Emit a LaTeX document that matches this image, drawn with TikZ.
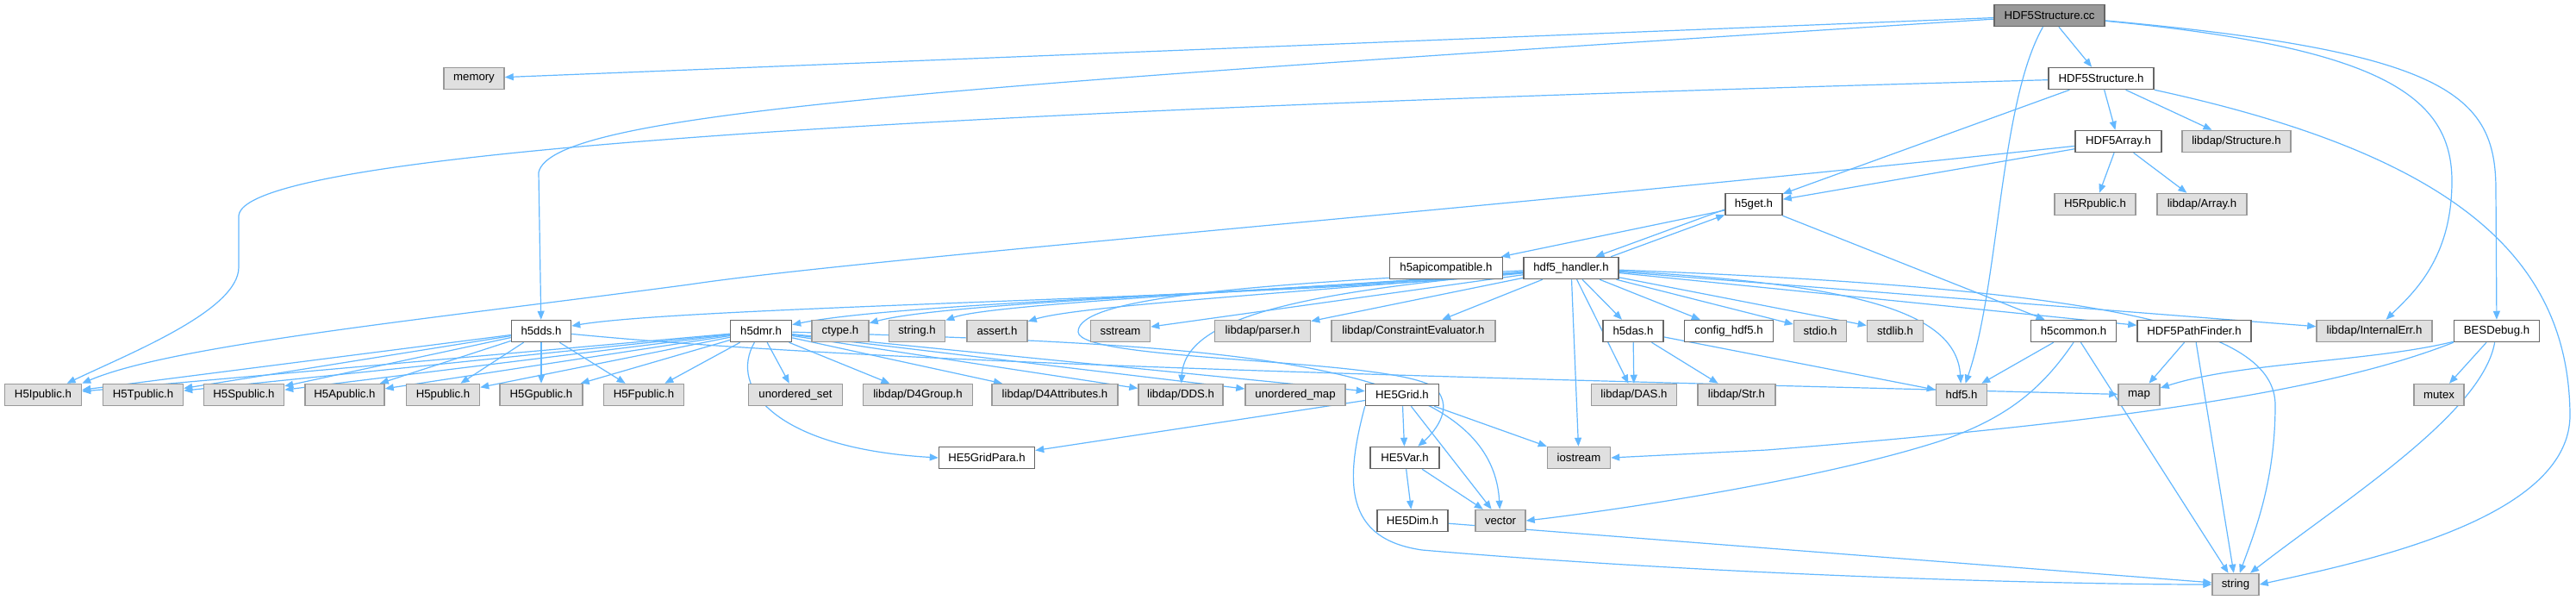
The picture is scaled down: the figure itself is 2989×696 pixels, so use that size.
\documentclass[tikz,border=0pt]{standalone}
\usepackage{fontspec}
\setmainfont{Liberation Sans}
\usetikzlibrary{arrows.meta,backgrounds}
\definecolor{edgec}{HTML}{63B8FF}
\definecolor{extfill}{HTML}{E0E0E0}
\definecolor{extdraw}{HTML}{999999}
\definecolor{docdraw}{HTML}{666666}
\definecolor{rootfill}{HTML}{999999}
\newcommand\gn[6]{\node[#5, minimum width=#4*0.5pt] (#1) at (#2,#3) {#6};}
\begin{document}
\begin{tikzpicture}[x=0.5pt,y=-0.5pt,
  nbase/.style={rectangle, line width=0.75pt, minimum height=12.5pt, inner xsep=0pt, inner ysep=0pt, font=\fontsize{6.6}{8}\selectfont, text=black},
  ext/.style={nbase, fill=extfill, draw=extdraw},
  doc/.style={nbase, fill=white, draw=docdraw},
  root/.style={nbase, fill=rootfill, draw=docdraw},
  e/.style={draw=edgec, line width=0.6pt, -{Triangle[length=5pt,width=4pt]}}]
\useasboundingbox (0,0) rectangle (2989,696);
% row 0
\gn{cc}{2378}{18}{128}{root}{HDF5Structure.cc}
% row 1
\gn{memory}{550}{91}{70}{ext}{memory}
\gn{hs}{2438}{91}{122}{doc}{HDF5Structure.h}
% row 2
\gn{ha}{2458}{164}{100}{doc}{HDF5Array.h}
\gn{lstruct}{2595}{164}{126}{ext}{libdap/Structure.h}
% row 3
\gn{hget}{2035}{237}{66}{doc}{h5get.h}
\gn{hrpub}{2431}{237}{94}{ext}{H5Rpublic.h}
\gn{larray}{2555}{237}{104}{ext}{libdap/Array.h}
% row 4
\gn{hapi}{1678}{311}{131}{doc}{h5apicompatible.h}
\gn{hhand}{1823}{311}{110}{doc}{hdf5\_handler.h}
% row 5
\gn{hdds}{628}{384}{69}{doc}{h5dds.h}
\gn{hdmr}{883}{384}{71}{doc}{h5dmr.h}
\gn{ctype}{975}{384}{66}{ext}{ctype.h}
\gn{stringh}{1064}{384}{65}{ext}{string.h}
\gn{asserth}{1157}{384}{70}{ext}{assert.h}
\gn{sstream}{1300}{384}{69}{ext}{sstream}
\gn{parser}{1465}{384}{111}{ext}{libdap/parser.h}
\gn{ceval}{1640}{384}{190}{ext}{libdap/ConstraintEvaluator.h}
\gn{hdas}{1895}{384}{70}{doc}{h5das.h}
\gn{config}{2006}{384}{103}{doc}{config\_hdf5.h}
\gn{stdioh}{2112}{384}{61}{ext}{stdio.h}
\gn{stdlibh}{2199}{384}{65}{ext}{stdlib.h}
\gn{hcommon}{2406}{384}{99}{doc}{h5common.h}
\gn{pathf}{2546}{384}{132}{doc}{HDF5PathFinder.h}
\gn{interr}{2755}{384}{134}{ext}{libdap/InternalErr.h}
\gn{besdbg}{2897}{384}{99}{doc}{BESDebug.h}
% row 6
\gn{hipub}{50}{458}{89}{ext}{H5Ipublic.h}
\gn{htpub}{166}{458}{93}{ext}{H5Tpublic.h}
\gn{hspub}{283}{458}{93}{ext}{H5Spublic.h}
\gn{hapub}{400}{458}{92}{ext}{H5Apublic.h}
\gn{hpub}{514}{458}{85}{ext}{H5public.h}
\gn{hgpub}{628}{458}{96}{ext}{H5Gpublic.h}
\gn{hfpub}{747}{458}{93}{ext}{H5Fpublic.h}
\gn{uset}{923}{458}{109}{ext}{unordered\_set}
\gn{d4group}{1065}{458}{127}{ext}{libdap/D4Group.h}
\gn{d4attr}{1224}{458}{146}{ext}{libdap/D4Attributes.h}
\gn{dds}{1370}{458}{98}{ext}{libdap/DDS.h}
\gn{umap}{1503}{458}{116}{ext}{unordered\_map}
\gn{grid}{1627}{458}{85}{doc}{HE5Grid.h}
\gn{das}{1896}{458}{99}{ext}{libdap/DAS.h}
\gn{strh}{2015}{458}{90}{ext}{libdap/Str.h}
\gn{hdf}{2276}{458}{59}{ext}{hdf5.h}
\gn{map}{2482}{458}{48}{ext}{map}
\gn{mutex}{2830}{458}{58}{ext}{mutex}
% row 7
\gn{gridpara}{1145}{531}{111}{doc}{HE5GridPara.h}
\gn{var}{1630}{531}{80}{doc}{HE5Var.h}
\gn{iostream}{1832}{531}{73}{ext}{iostream}
% row 8
\gn{dim}{1639}{604}{82}{doc}{HE5Dim.h}
\gn{vector}{1741}{604}{58}{ext}{vector}
% row 9
\gn{strg}{2594}{678}{54}{ext}{string}

\begin{scope}[on background layer]
\fill[white] (0,0) rectangle (2989,696);
% HDF5Structure.cc
\draw[e] (cc) -- (memory);
\draw[e] (cc) -- (hs);
\draw[e] (cc) .. controls (1100,100) and (640,130) .. (625,200) -- (hdds);
\draw[e] (cc) .. controls (2320,120) and (2320,330) .. (hdf);
\draw[e] (cc) .. controls (2760,55) and (2845,110) .. (2845,210) .. controls (2845,300) and (2800,340) .. (interr);
\draw[e] (cc) .. controls (2840,60) and (2896,110) .. (2896,220) -- (besdbg);
% HDF5Structure.h
\draw[e] (hs) .. controls (1200,125) and (285,170) .. (277,250) -- (277,310) .. controls (277,360) and (150,410) .. (hipub);
\draw[e] (hs) -- (hget);
\draw[e] (hs) -- (ha);
\draw[e] (hs) -- (lstruct);
\draw[e] (hs.south east) .. controls (2850,180) and (2980,300) .. (2982,480) .. controls (2984,600) and (2750,650) .. (strg.east);
% HDF5Array.h
\draw[e] (ha) .. controls (1700,245) and (1000,300) .. (800,330) .. controls (500,370) and (200,400) .. (hipub.north east);
\draw[e] (ha) -- (hget);
\draw[e] (ha) -- (hrpub);
\draw[e] (ha) -- (larray);
% h5get.h
\draw[e] (hget) -- (hapi);
\draw[e] (hget.-170) -- (hhand.25);
\draw[e] (hhand.16) -- (hget.-160);
\draw[e] (hget) -- (hcommon);
% hdf5_handler.h
\draw[e] (hhand) .. controls (1500,345) and (800,355) .. (hdds);
\draw[e] (hhand) .. controls (1500,340) and (1050,350) .. (hdmr);
\draw[e] (hhand) .. controls (1500,338) and (1100,350) .. (ctype);
\draw[e] (hhand) .. controls (1500,336) and (1150,352) .. (stringh);
\draw[e] (hhand) .. controls (1500,340) and (1250,355) .. (asserth);
\draw[e] (hhand) -- (sstream);
\draw[e] (hhand) -- (parser);
\draw[e] (hhand) -- (ceval);
\draw[e] (hhand) -- (hdas);
\draw[e] (hhand) -- (config);
\draw[e] (hhand) -- (stdioh);
\draw[e] (hhand) -- (stdlibh);
\draw[e] (hhand) -- (pathf);
\draw[e] (hhand) -- (interr);
\draw[e] (hhand) .. controls (2150,330) and (2270,360) .. (hdf);
\draw[e] (hhand) .. controls (2450,335) and (2640,380) .. (2640,470) .. controls (2640,560) and (2615,620) .. (strg);
\draw[e] (hhand) .. controls (1500,340) and (1375,370) .. (dds);
\draw[e] (hhand) -- (das);
\draw[e] (hhand) -- (iostream);
\draw[e] (hhand) .. controls (1450,330) and (1250,345) .. (1251,385) .. controls (1252,420) and (1620,415) .. (1665,450) .. controls (1690,475) and (1660,505) .. (var);
% h5dds.h
\foreach \t in {hipub,htpub,hspub,hapub,hpub,hgpub,hfpub} \draw[e] (hdds) -- (\t);
\draw[e] (hdds) .. controls (1000,420) and (1600,436) .. (map);
% h5dmr.h
\foreach \t in {hipub,htpub,hspub,hapub,hpub,hgpub,hfpub,uset,d4group,d4attr,dds,umap,grid} \draw[e] (hdmr) -- (\t);
\draw[e] (hdmr) .. controls (845,450) and (900,520) .. (gridpara.west);
\draw[e] (hdmr) .. controls (1400,400) and (1730,410) .. (vector);
% h5das.h
\draw[e] (hdas) -- (das);
\draw[e] (hdas) -- (strh);
\draw[e] (hdas) -- (hdf);
% HE5Grid.h
\draw[e] (grid) -- (gridpara);
\draw[e] (grid) -- (var);
\draw[e] (grid) -- (vector);
\draw[e] (grid) -- (iostream);
\draw[e] (grid.south west) .. controls (1560,560) and (1560,625) .. (1650,638) .. controls (2000,668) and (2400,678) .. (strg.west);
% HE5Var.h, HE5Dim.h
\draw[e] (var) -- (dim);
\draw[e] (var) -- (vector);
\draw[e] (dim) -- (strg);
% h5common.h
\draw[e] (hcommon) -- (hdf);
\draw[e] (hcommon.south) .. controls (2370,450) and (2330,485) .. (2250,512) .. controls (2100,560) and (1850,595) .. (vector.east);
\draw[e] (hcommon) -- (strg);
% HDF5PathFinder.h
\draw[e] (pathf) -- (map);
\draw[e] (pathf) -- (strg);
% BESDebug.h
\draw[e] (besdbg) .. controls (2750,420) and (2600,420) .. (map);
\draw[e] (besdbg.south west) .. controls (2700,455) and (2450,490) .. (2050,522) -- (iostream.east);
\draw[e] (besdbg) -- (mutex);
\draw[e] (besdbg) .. controls (2880,480) and (2720,580) .. (strg);
\end{scope}
\end{tikzpicture}
\end{document}
